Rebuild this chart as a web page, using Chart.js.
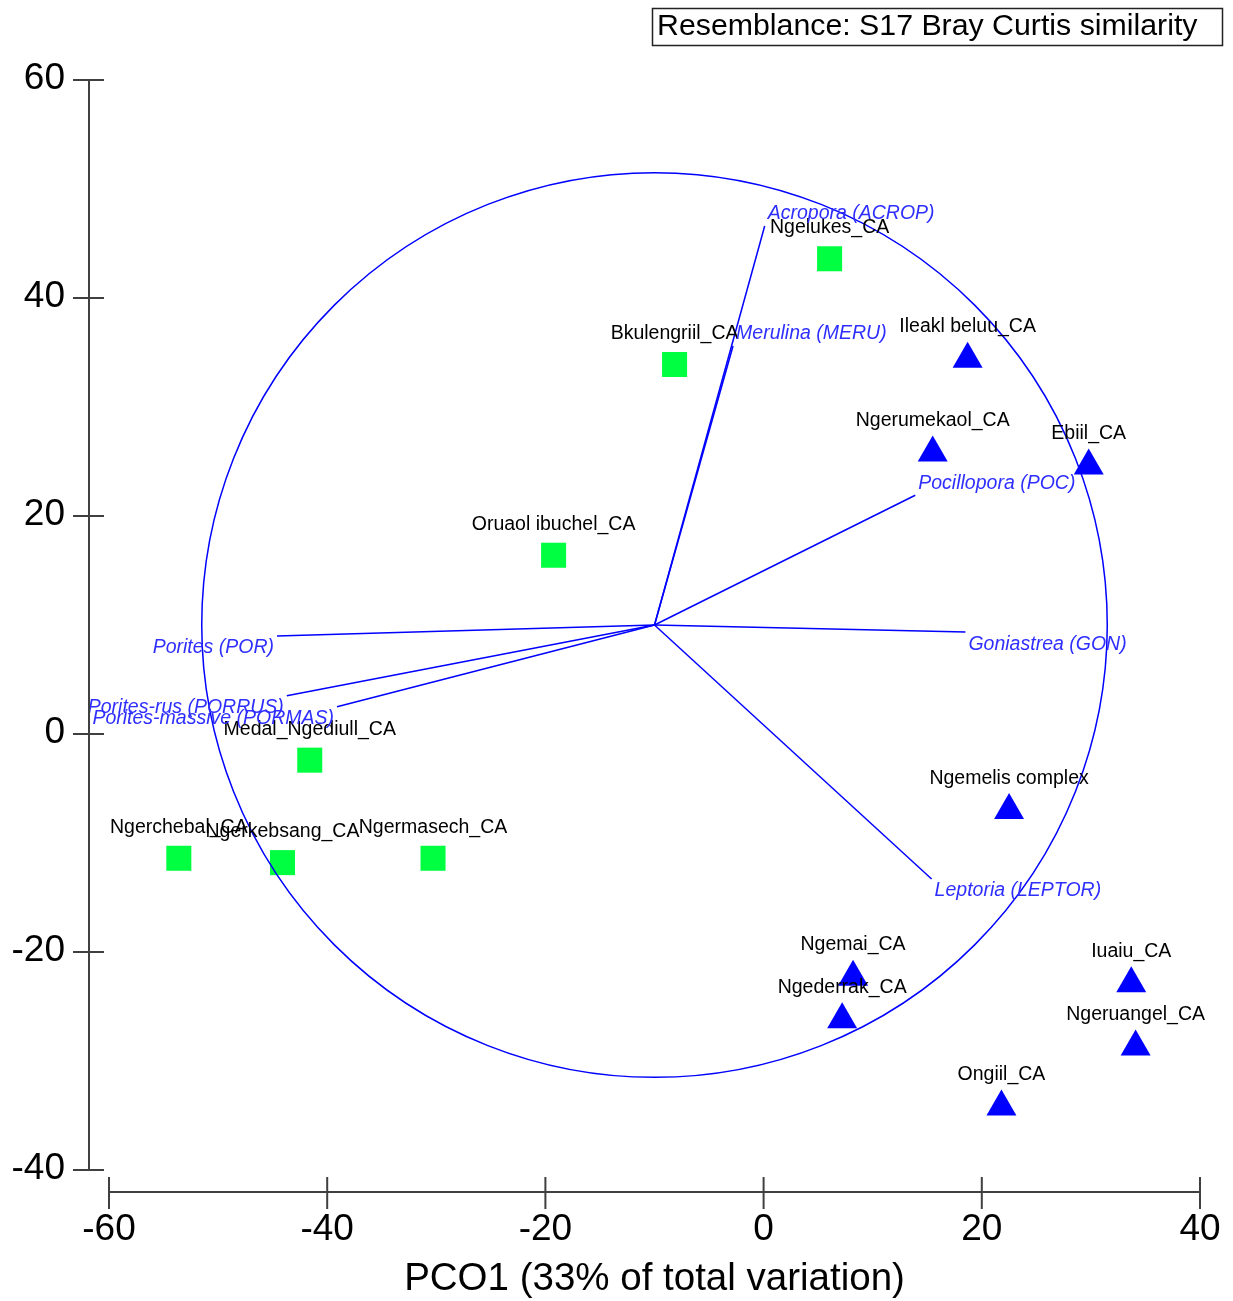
<!DOCTYPE html>
<html>
<head>
<meta charset="utf-8">
<title>PCO</title>
<script src="https://cdn.jsdelivr.net/npm/chart.js@4.4.1/dist/chart.umd.min.js"></script>
<style>
  body { margin: 0; background: #fff; }
  canvas { display: block; }
</style>
</head>
<body>
<canvas id="pcoChart" width="1233" height="1301"></canvas>
<script>
// first group of sites (green squares)
const greenSites = ['Ngelukes_CA', 'Bkulengriil_CA', 'Oruaol ibuchel_CA', 'Medal_Ngediull_CA', 'Ngerchebal_CA', 'Ngerkebsang_CA', 'Ngermasech_CA'];
const greenX = [6.05, -8.16, -19.25, -41.6, -53.6, -44.1, -30.3];
const greenY = [43.6, 33.9, 16.4, -2.4, -11.4, -11.8, -11.4];

// second group of sites (blue triangles)
const blueSites = ['Ileakl beluu_CA', 'Ngerumekaol_CA', 'Ebiil_CA', 'Ngemelis complex', 'Ngemai_CA', 'Ngederrak_CA', 'Iuaiu_CA', 'Ngeruangel_CA', 'Ongiil_CA'];
const blueX = [18.7, 15.5, 29.8, 22.5, 8.2, 7.2, 33.7, 34.1, 21.8];
const blueY = [34.4, 25.8, 24.6, -7.0, -22.3, -26.2, -22.9, -28.7, -34.2];

// vector overlay
const vectorNames = ['Acropora (ACROP)', 'Merulina (MERU)', 'Pocillopora (POC)', 'Goniastrea (GON)', 'Leptoria (LEPTOR)', 'Porites (POR)', 'Porites-rus (PORRUS)', 'Porites-massive (PORMAS)'];
const vectorX = [0.1, -2.8, 13.9, 18.5, 15.4, -44.6, -43.7, -39.1];
const vectorY = [46.6, 35.6, 21.9, 9.35, -13.3, 9.0, 3.5, 2.5];
const circleCenter = [-10, 10];
const circleRadius = 41.5;

// axes
const xTicks = [-60, -40, -20, 0, 20, 40];
const yTicks = [-40, -20, 0, 20, 40, 60];
const xTitle = 'PCO1 (33% of total variation)';
const resemblanceText = 'Resemblance: S17 Bray Curtis similarity';

const FONT = '"Liberation Sans", Arial, sans-serif';

function toPoints(xs, ys) {
    return xs.map((x, i) => ({ x: x, y: ys[i] }));
}

// one line dataset per vector, from the circle centre to its tip
const vectorSets = vectorNames.map((name, i) => ({
    label: name,
    type: 'line',
    data: [{ x: circleCenter[0], y: circleCenter[1] }, { x: vectorX[i], y: vectorY[i] }],
    borderColor: '#0000ff',
    borderWidth: 1.5,
    pointRadius: 0,
    fill: false
}));

// circle, labels, axes and the resemblance box
const overlay = {
    id: 'overlay',
    afterDatasetsDraw(chart) {
        const ctx = chart.ctx;
        const xs = chart.scales.x;
        const ys = chart.scales.y;
        ctx.save();

        // correlation circle
        const cx = xs.getPixelForValue(circleCenter[0]);
        const cy = ys.getPixelForValue(circleCenter[1]);
        const rx = xs.getPixelForValue(circleCenter[0] + circleRadius) - cx;
        const ry = cy - ys.getPixelForValue(circleCenter[1] + circleRadius);
        ctx.strokeStyle = '#0000ff';
        ctx.lineWidth = 1.5;
        ctx.beginPath();
        ctx.ellipse(cx, cy, rx, ry, 0, 0, Math.PI * 2);
        ctx.stroke();

        // site labels
        ctx.font = '19.5px ' + FONT;
        ctx.fillStyle = '#000';
        ctx.textAlign = 'center';
        ctx.textBaseline = 'middle';
        greenSites.forEach((name, i) => {
            ctx.fillText(name, xs.getPixelForValue(greenX[i]), ys.getPixelForValue(greenY[i]) - 31);
        });
        blueSites.forEach((name, i) => {
            ctx.fillText(name, xs.getPixelForValue(blueX[i]), ys.getPixelForValue(blueY[i]) - 32);
        });

        // vector labels
        ctx.font = 'italic 19.5px ' + FONT;
        ctx.fillStyle = '#2e2eff';
        vectorNames.forEach((name, i) => {
            const px = xs.getPixelForValue(vectorX[i]);
            const py = ys.getPixelForValue(vectorY[i]);
            const right = vectorX[i] > circleCenter[0];
            ctx.textAlign = right ? 'left' : 'right';
            const dy = vectorY[i] > circleCenter[1] ? -12 : 12;
            ctx.fillText(name, right ? px + 3 : px - 3, py + dy);
        });

        // detached axes
        const axisX = xs.left - 20;
        const axisY = ys.bottom + 22;
        ctx.strokeStyle = '#404040';
        ctx.lineWidth = 2;
        ctx.beginPath();
        ctx.moveTo(axisX, ys.getPixelForValue(yTicks[yTicks.length - 1]));
        ctx.lineTo(axisX, ys.getPixelForValue(yTicks[0]));
        ys.ticks.forEach(t => {
            const py = ys.getPixelForValue(t.value);
            ctx.moveTo(axisX - 16, py);
            ctx.lineTo(axisX + 15, py);
        });
        ctx.moveTo(xs.getPixelForValue(xTicks[0]), axisY);
        ctx.lineTo(xs.getPixelForValue(xTicks[xTicks.length - 1]), axisY);
        xs.ticks.forEach(t => {
            const px = xs.getPixelForValue(t.value);
            ctx.moveTo(px, axisY - 15);
            ctx.lineTo(px, axisY + 17);
        });
        ctx.stroke();

        ctx.font = '37px ' + FONT;
        ctx.fillStyle = '#000';
        ctx.textBaseline = 'middle';
        ctx.textAlign = 'right';
        ys.ticks.forEach(t => {
            ctx.fillText(String(t.value), axisX - 24, ys.getPixelForValue(t.value) - 1);
        });
        ctx.textAlign = 'center';
        xs.ticks.forEach(t => {
            ctx.fillText(String(t.value), xs.getPixelForValue(t.value), axisY + 38);
        });

        // x axis title
        ctx.font = '38.5px ' + FONT;
        ctx.fillText(xTitle, (xs.left + xs.right) / 2, axisY + 87);

        // resemblance box
        ctx.font = '30.3px ' + FONT;
        ctx.textAlign = 'left';
        ctx.fillText(resemblanceText, 657, 27);
        ctx.strokeStyle = '#222';
        ctx.lineWidth = 1.5;
        ctx.strokeRect(652.5, 8.5, 570, 37);

        ctx.restore();
    }
};

const pcoChart = document.getElementById('pcoChart').getContext('2d');
new Chart(pcoChart, {
    type: 'scatter',
    data: {
        datasets: [
            {
                label: 'Group 1',
                data: toPoints(greenX, greenY),
                pointStyle: 'rect',
                pointRadius: 17.7,
                pointHoverRadius: 17.7,
                pointBackgroundColor: '#00ff40',
                pointBorderWidth: 0
            },
            {
                label: 'Group 2',
                data: toPoints(blueX, blueY),
                pointStyle: 'triangle',
                pointRadius: 17.3,
                pointHoverRadius: 17.3,
                pointBackgroundColor: '#0000ff',
                pointBorderWidth: 0
            },
            ...vectorSets
        ]
    },
    options: {
        responsive: false,
        animation: false,
        layout: {
            padding: { left: 109, right: 33, top: 80, bottom: 131 }
        },
        plugins: {
            legend: { display: false },
            title: { display: false },
            tooltip: { enabled: false }
        },
        scales: {
            x: {
                type: 'linear',
                display: false,
                min: xTicks[0],
                max: xTicks[xTicks.length - 1],
                afterBuildTicks: scale => { scale.ticks = xTicks.map(v => ({ value: v })); }
            },
            y: {
                type: 'linear',
                display: false,
                min: yTicks[0],
                max: yTicks[yTicks.length - 1],
                afterBuildTicks: scale => { scale.ticks = yTicks.map(v => ({ value: v })); }
            }
        }
    },
    plugins: [overlay]
});
</script>
</body>
</html>
